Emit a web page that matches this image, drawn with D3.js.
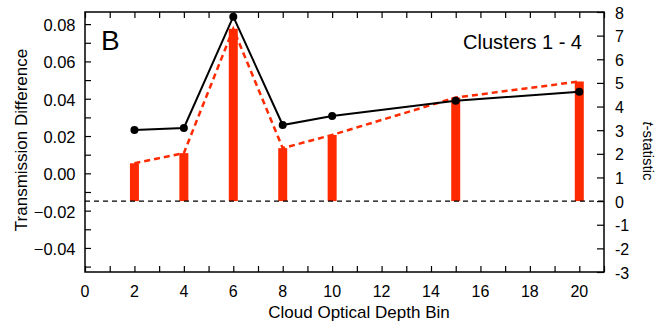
<!DOCTYPE html>
<html>
<head>
<meta charset="utf-8">
<script src="https://cdn.jsdelivr.net/npm/d3@7"></script>
<style>
  body { margin: 0; background: #fff; }
  text { font-family: "Liberation Sans", Arial, sans-serif; fill: #000; }
</style>
</head>
<body>
<div id="chart"></div>
<script>
// cloud optical depth bins
const bins = [2, 4, 6, 8, 10, 15, 20];
// t-statistic (bars + red dashed line)
const tStat = [1.6, 2.03, 7.29, 2.24, 2.8, 4.38, 5.06];
// transmission difference (black line + dots)
const transDiff = [0.0232, 0.0243, 0.084, 0.0259, 0.0307, 0.0389, 0.0438];

const leftTicks = [-0.04, -0.02, 0.00, 0.02, 0.04, 0.06, 0.08];
const rightTicks = [-3, -2, -1, 0, 1, 2, 3, 4, 5, 6, 7, 8];
const xTicks = [0, 2, 4, 6, 8, 10, 12, 14, 16, 18, 20];

const W = 656, H = 323;
const plot = { left: 85, right: 604, top: 12, bottom: 272 };

const svg = d3.select("#chart").append("svg")
    .attr("width", W)
    .attr("height", H);

const x = d3.scaleLinear().domain([0, 21]).range([plot.left, plot.right]);
const yL = d3.scaleLinear().domain([-0.0529, 0.0865]).range([plot.bottom, plot.top]);
const yR = d3.scaleLinear().domain([-3, 8]).range([plot.bottom, plot.top]);

// bars (t-statistic)
svg.selectAll("rect.bar")
    .data(bins)
    .join("rect")
    .attr("class", "bar")
    .attr("x", d => x(d) - 4.5)
    .attr("width", 9)
    .attr("y", (d, i) => yR(tStat[i]))
    .attr("height", (d, i) => yR(0) - yR(tStat[i]))
    .attr("fill", "#ff2a00");

// zero line of t-statistic
svg.append("line")
    .attr("x1", plot.left).attr("x2", plot.right)
    .attr("y1", yR(0)).attr("y2", yR(0))
    .attr("stroke", "#000")
    .attr("stroke-width", 1.2)
    .attr("stroke-dasharray", "5,4");

// red dashed line through bar tops
const tLine = d3.line().x((d, i) => x(bins[i])).y(d => yR(d));
svg.append("path")
    .attr("d", tLine(tStat))
    .attr("fill", "none")
    .attr("stroke", "#ff2a00")
    .attr("stroke-width", 2.5)
    .attr("stroke-dasharray", "6,4");

// black line + dots
const dLine = d3.line().x((d, i) => x(bins[i])).y(d => yL(d));
svg.append("path")
    .attr("d", dLine(transDiff))
    .attr("fill", "none")
    .attr("stroke", "#000")
    .attr("stroke-width", 2);

svg.selectAll("circle.pt")
    .data(transDiff)
    .join("circle")
    .attr("class", "pt")
    .attr("cx", (d, i) => x(bins[i]))
    .attr("cy", d => yL(d))
    .attr("r", 4)
    .attr("fill", "#000");

// axes, all ticks inward
const xMinor = d3.range(0, 22);
svg.append("g")
    .attr("transform", `translate(0,${plot.bottom})`)
    .call(d3.axisBottom(x).tickValues(xMinor).tickSize(-6).tickFormat(""))
    .call(g => g.select(".domain").remove());
svg.append("g")
    .attr("transform", `translate(0,${plot.top})`)
    .call(d3.axisTop(x).tickValues(xMinor).tickSize(-6).tickFormat(""))
    .call(g => g.select(".domain").remove());

svg.append("g")
    .attr("transform", `translate(${plot.left},0)`)
    .call(d3.axisLeft(yL).tickValues(d3.range(-0.05, 0.081, 0.01)).tickSize(-6).tickFormat(""))
    .call(g => g.select(".domain").remove());
svg.append("g")
    .attr("transform", `translate(${plot.right},0)`)
    .call(d3.axisRight(yR).tickValues(rightTicks).tickSize(-7).tickFormat(""))
    .call(g => g.select(".domain").remove());

svg.selectAll(".tick line").attr("stroke", "#000").attr("stroke-width", 1.2);

// frame
svg.append("rect")
    .attr("x", plot.left).attr("y", plot.top)
    .attr("width", plot.right - plot.left)
    .attr("height", plot.bottom - plot.top)
    .attr("fill", "none")
    .attr("stroke", "#000")
    .attr("stroke-width", 1.5);

// tick labels
svg.selectAll("text.xl")
    .data(xTicks)
    .join("text")
    .attr("x", d => x(d))
    .attr("y", 297)
    .attr("text-anchor", "middle")
    .attr("font-size", 16)
    .text(d => d);

svg.selectAll("text.yl")
    .data(leftTicks)
    .join("text")
    .attr("x", 75.5)
    .attr("y", d => yL(d) + 7)
    .attr("text-anchor", "end")
    .attr("font-size", 16.5)
    .text(d => d3.format(".2f")(d));

svg.selectAll("text.yr")
    .data(rightTicks)
    .join("text")
    .attr("x", 615)
    .attr("y", d => yR(d) + 6.5)
    .attr("font-size", 16)
    .text(d => d);

// axis titles
svg.append("text")
    .attr("x", 359)
    .attr("y", 318)
    .attr("text-anchor", "middle")
    .attr("font-size", 17)
    .text("Cloud Optical Depth Bin");

svg.append("text")
    .attr("transform", `translate(27,140) rotate(-90)`)
    .attr("text-anchor", "middle")
    .attr("font-size", 17)
    .text("Transmission Difference");

const tTitle = svg.append("text")
    .attr("transform", `translate(643,151) rotate(90)`)
    .attr("text-anchor", "middle")
    .attr("font-size", 15);
tTitle.append("tspan").attr("font-style", "italic").text("t");
tTitle.append("tspan").text("-statistic");

// panel label and annotation
svg.append("text")
    .attr("x", 101)
    .attr("y", 50)
    .attr("font-size", 28)
    .text("B");

svg.append("text")
    .attr("x", 582)
    .attr("y", 49)
    .attr("text-anchor", "end")
    .attr("font-size", 20)
    .text("Clusters 1 - 4");
</script>
</body>
</html>
